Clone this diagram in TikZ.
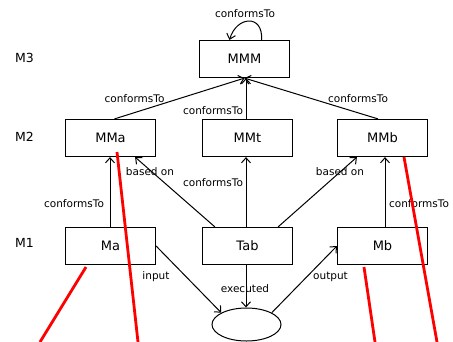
\documentclass[tikz,border=0pt]{standalone}
\usepackage{fontspec}
\setmainfont{DejaVu Sans}
\usetikzlibrary{calc,positioning,shapes.geometric,arrows.meta}

\tikzset{
  model/.style={draw, line width=1.2pt, minimum width=90pt, minimum height=37pt, inner sep=0pt, font=\fontsize{13}{15}\selectfont},
  lbl/.style={font=\fontsize{10.5}{12}\selectfont, inner sep=0pt},
  level/.style={font=\fontsize{12.5}{14}\selectfont, inner sep=0pt},
  conf/.style={-{Straight Barb[length=5pt,width=9pt]}, line width=1pt},
  cut/.style={red, line width=2.8pt}
}

\begin{document}
\begin{tikzpicture}[x=1pt, y=-1pt]
        \useasboundingbox (0,0) rectangle (453,341);

        % Level names
        \node[level] (lvM3) at (24.5,58) {M3};
        \node[level] (lvM2) at (24.5,137) {M2};
        \node[level] (lvM1) at (24.5,243) {M1};

        % Models
        \node[model] (MMM) at (244.5,59) {MMM};
        \node[model] (MMa) at (110.5,138) {MMa};
        \node[model] (MMt) at (247.5,138) {MMt};
        \node[model] (MMb) at (382.5,138) {MMb};
        \node[model] (Ma) at (110.5,246) {Ma};
        \node[model] (Tab) at (247.5,246) {Tab};
        \node[model] (Mb) at (382.5,246) {Mb};

        % Transformation run
        \node[draw, ellipse, line width=1pt, minimum width=69pt, minimum height=33pt, inner sep=0pt] (run) at (246.5,324.5) {};

        % Self conformance of MMM
        \draw[conf] ($(MMM.north)+(17,0)$) .. controls +(2,-26) and +(7,-24) .. ($(MMM.north)+(-15,0)$);
        \node[lbl] (lblSelf) at (245,14) {conformsTo};

        % M2 -> M3
        \draw[conf] ($(MMa.north)+(4,0)$) -- (MMM.south);
        \draw[conf] ($(MMt.north)+(-1.5,0)$) -- ($(MMM.south)+(1.5,0)$);
        \draw[conf] ($(MMb.north)+(-4.5,0)$) -- (MMM.south);
        \node[lbl] (lblMMa) at (134.5,99) {conformsTo};
        \node[lbl] (lblMMt) at (213,111) {conformsTo};
        \node[lbl] (lblMMb) at (358,99) {conformsTo};

        % M1 -> M2
        \draw[conf] ($(Ma.north)+(-0.5,0)$) -- ($(MMa.south)+(-0.5,0)$);
        \draw[conf] ($(Tab.north west)+(13,0)$) -- ($(MMa.south east)+(-21,0)$);
        \draw[conf] ($(Tab.north)+(-1.5,0)$) -- ($(MMt.south)+(-1.5,0)$);
        \draw[conf] ($(Tab.north east)+(-15,0)$) -- ($(MMb.south west)+(20,0)$);
        \draw[conf] ($(Mb.north)+(2.5,0)$) -- ($(MMb.south)+(2.5,0)$);
        \node[lbl] (lblMa) at (74,204) {conformsTo};
        \node[lbl] (lblBasedA) at (150,172) {based on};
        \node[lbl] (lblTab) at (213,183) {conformsTo};
        \node[lbl] (lblBasedB) at (340,172) {based on};
        \node[lbl] (lblMb) at (419,204) {conformsTo};

        % Execution
        \draw[conf] (Ma.east) -- (run.155);
        \draw[conf] ($(Tab.south)+(-1.5,0)$) -- ($(run.north)+(-0.5,0)$);
        \draw[conf] (run.25) -- (Mb.west);
        \node[lbl] (lblIn) at (156,277) {input};
        \node[lbl] (lblExec) at (245,289) {executed};
        \node[lbl] (lblOut) at (330.5,277) {output};

        % Red strokes
        \draw[cut] (86,267) -- (40,342);
        \draw[cut] (117,152) -- (138,342);
        \draw[cut] (364,267) -- (375,342);
        \draw[cut] (404,157) -- (437,342);
\end{tikzpicture}
\end{document}
